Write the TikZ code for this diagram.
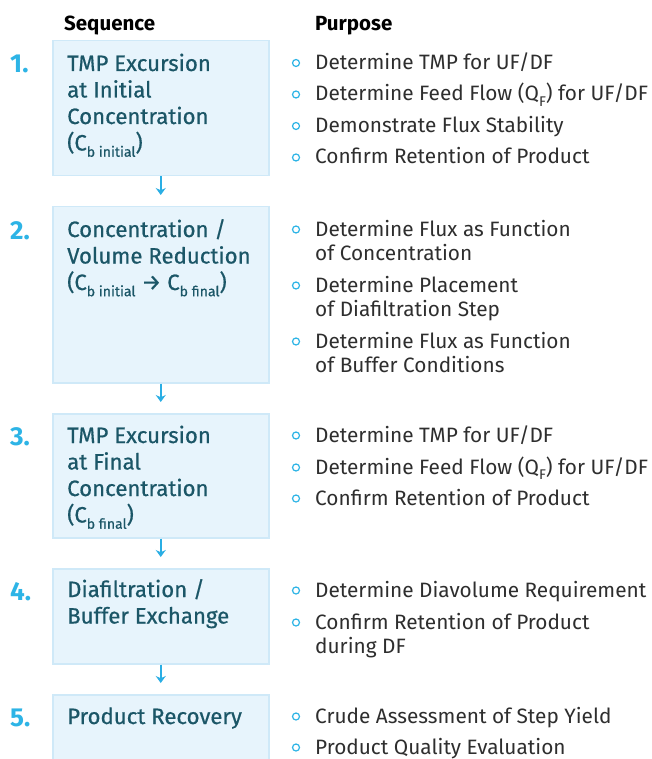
\documentclass[tikz,border=0pt]{standalone}
\usepackage{fontspec}
\setmainfont{Fira Sans}
\newfontfamily\medfont{Fira Sans}[FakeBold=0.6]
\usetikzlibrary{arrows.meta}
\definecolor{boxfill}{HTML}{E7F4FC}
\definecolor{boxline}{HTML}{CFE9F8}
\definecolor{numblue}{HTML}{2DB4E6}
\definecolor{boxtext}{HTML}{1B5667}
\definecolor{ptext}{HTML}{2E2E2E}
\definecolor{arrblue}{HTML}{2AAEE4}
\newcommand\sbs[1]{\raisebox{-0.28em}{\fontsize{14}{14}\selectfont #1}}
% #1 name, #2 first baseline (bullet), #3 last baseline (text base), #4 text
\newcommand\pitem[4]{\node[dot] (#1d) at (296,#2-6.5) {}; \node[ptxt] (#1) at (315,#3) {#4};}
\begin{document}
\begin{tikzpicture}[x=1pt,y=-1pt,
 stepbox/.style={draw=boxline, fill=boxfill, line width=1.5pt, anchor=north west, minimum width=216pt, inner sep=0pt},
 steptext/.style={anchor=base west, align=left, inner sep=0pt, text=boxtext, font=\medfont\fontsize{22.2}{26.5}\selectfont},
 stepnum/.style={anchor=base west, inner sep=0pt, text=numblue, font=\fontsize{26}{26}\selectfont\bfseries},
 head/.style={anchor=base west, inner sep=0pt, font=\fontsize{20.5}{20.5}\selectfont\bfseries},
 dot/.style={circle, draw=numblue, line width=1.2pt, minimum size=7pt, inner sep=0pt},
 ptxt/.style={anchor=base west, align=left, inner sep=0pt, text=ptext, font=\fontsize{20.8}{24}\selectfont},
 arr/.style={draw=arrblue, line width=1.8pt, -{Stealth[length=7pt,width=10pt]}, shorten >=11pt}
]
\useasboundingbox (0,0) rectangle (652,759);
\fill[white] (0,0) rectangle (652,759);

\node[head] (hseq) at (64,31) {Sequence};
\node[head] (hpur) at (315,31) {Purpose};

\node[stepbox, minimum height=135pt] (b1) at (52,40) {};
\node[stepbox, minimum height=176pt] (b2) at (52,206) {};
\node[stepbox, minimum height=124pt] (b3) at (52,413) {};
\node[stepbox, minimum height=95pt] (b4) at (52,568) {};
\node[stepbox, minimum height=72pt] (b5) at (52,694) {};

\draw[arr] (b1.south) -- (b2.north);
\draw[arr] (b2.south) -- (b3.north);
\draw[arr] (b3.south) -- (b4.north);
\draw[arr] (b4.south) -- (b5.north);

\node[stepnum] (n1) at (10,73) {1.};
\node[stepnum] (n2) at (10,239) {2.};
\node[stepnum] (n3) at (10,445) {3.};
\node[stepnum] (n4) at (10,600) {4.};
\node[stepnum] (n5) at (10,726) {5.};

\node[steptext] (t1) at (67,150.5) {TMP Excursion\\at Initial\\Concentration\\(C\sbs{b initial})};
\node[steptext] (t2) at (67,290) {Concentration /\\Volume Reduction\\(C\sbs{b initial} → C\sbs{b final})};
\node[steptext] (t3) at (67,522.5) {TMP Excursion\\at Final\\Concentration\\(C\sbs{b final})};
\node[steptext] (t4) at (67,623.5) {Diafiltration /\\Buffer Exchange};
\node[steptext] (t5) at (67,724) {Product Recovery};

\pitem{p1a}{69.5}{69.5}{Determine TMP for UF/DF}
\pitem{p1b}{101}{101}{Determine Feed Flow (Q\sbs{F}) for UF/DF}
\pitem{p1c}{132.5}{132.5}{Demonstrate Flux Stability}
\pitem{p1d}{164}{164}{Confirm Retention of Product}

\pitem{p2a}{236}{260}{Determine Flux as Function\\of Concentration}
\pitem{p2b}{292}{316}{Determine Placement\\of Diafiltration Step}
\pitem{p2c}{348}{372}{Determine Flux as Function\\of Buffer Conditions}

\pitem{p3a}{442}{442}{Determine TMP for UF/DF}
\pitem{p3b}{474}{474}{Determine Feed Flow (Q\sbs{F}) for UF/DF}
\pitem{p3c}{505}{505}{Confirm Retention of Product}

\pitem{p4a}{597}{597}{Determine Diavolume Requirement}
\pitem{p4b}{629}{653}{Confirm Retention of Product\\during DF}

\pitem{p5a}{723}{723}{Crude Assessment of Step Yield}
\pitem{p5b}{754}{754}{Product Quality Evaluation}
\end{tikzpicture}
\end{document}
